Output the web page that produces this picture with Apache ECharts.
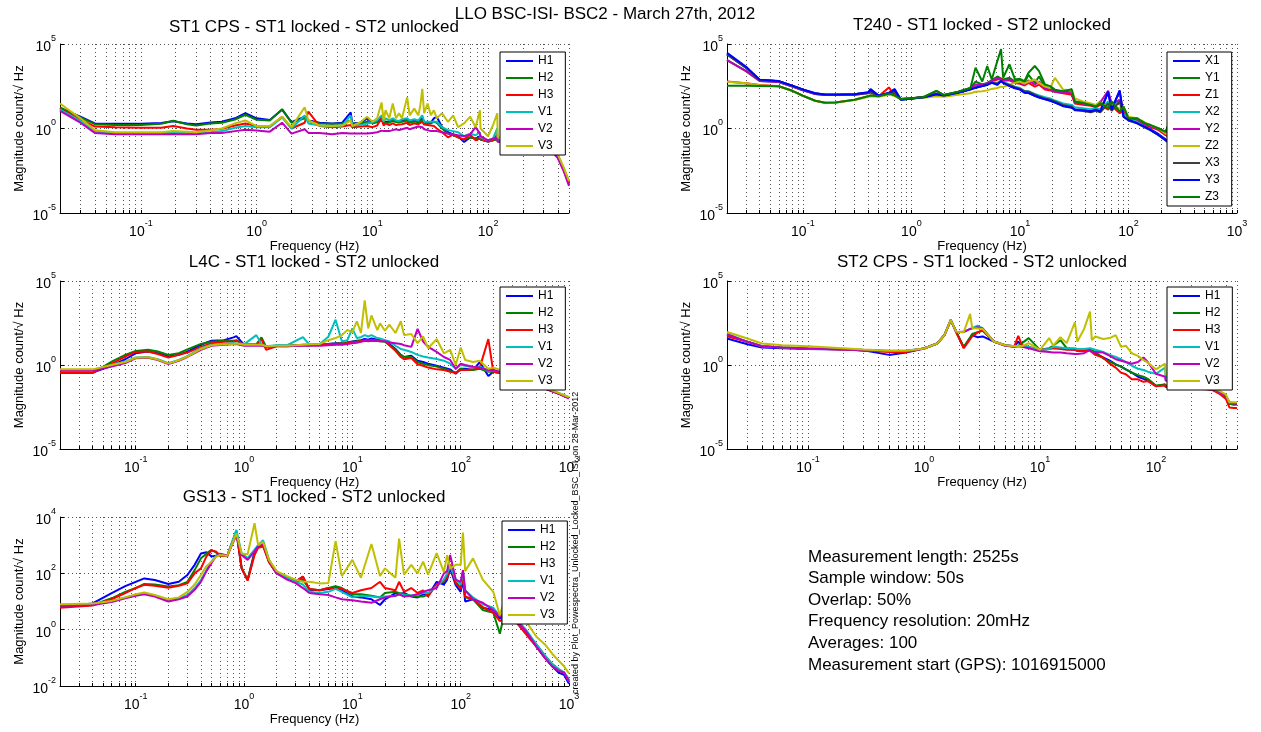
<!DOCTYPE html>
<html>
<head>
<meta charset="utf-8">
<script src="https://cdn.jsdelivr.net/npm/echarts@6/dist/echarts.min.js"></script>
<style>html,body{margin:0;padding:0;background:#fff}#c{width:1261px;height:732px}</style>
</head>
<body>
<div id="c"></div>
<script>
// ---------------- tick values / labels ----------------
const X_TICKS_500 = [0.02,0.03,0.04,0.05,0.06,0.07,0.08,0.09,0.1,0.2,0.3,0.4,0.5,0.6,0.7,0.8,0.9,1,2,3,4,5,6,7,8,9,10,20,30,40,50,60,70,80,90,100,200,300,400,500];
const X_TICKS_1000 = [0.02,0.03,0.04,0.05,0.06,0.07,0.08,0.09,0.1,0.2,0.3,0.4,0.5,0.6,0.7,0.8,0.9,1,2,3,4,5,6,7,8,9,10,20,30,40,50,60,70,80,90,100,200,300,400,500,600,700,800,900,1000];
const X_LABELS_500 = [0.1, 1, 10, 100];
const X_LABELS_1000 = [0.1, 1, 10, 100, 1000];
const Y_LABELS_WIDE = [1e-5, 1, 1e5];
const Y_LABELS_GS13 = [0.01, 1, 100, 10000];

// ---------------- ST1 CPS ----------------
const FREQ_ST1CPS = [0.02,0.03,0.04,0.06,0.1,0.15,0.19,0.25,0.3,0.4,
 0.5,0.65,0.8,1.0,1.3,1.66,2.0,2.6,2.8,3.5,
 4.5,5.5,6.5,6.7,8,9,10,11,12,12.5,
 13,14,15,16,17,18,20,21,23,25,
 26,27,28,30,32,34,36,40,45,50,
 55,62,70,78,85,86,100,110,120,121,
 150,200,250,300,350,400,450,500];
const ST1CPS_H1 = [16,5,2.0,1.9,1.9,2.1,2.7,2.0,1.8,2.3,
 2.5,4,8,4,3.2,13,2.4,5,3,2.2,
 2.0,2.2,9,2.0,2.2,4,2.2,2.6,5,2.5,
 3,2.5,3.5,2.8,2.6,2.8,3.5,2.5,3,2.6,
 2.8,4,2.5,2.3,2.2,4,5,1.2,0.6,0.45,
 0.35,0.16,0.3,0.25,0.35,0.22,0.17,0.2,0.25,0.17,
 0.17,0.15,0.12,0.1,0.07,0.025,0.004,0.0006];
const ST1CPS_H2 = [18,4.5,1.8,1.6,1.6,1.9,2.9,1.8,1.5,2.0,
 2.2,3.4,6.5,3.3,3.0,14,2.2,4,2.8,2.0,
 1.9,2.0,3,1.9,2.0,2.5,2.0,2.3,3,2.2,
 2.6,2.2,2.8,2.4,2.3,2.5,3,2.2,2.6,2.3,
 2.5,3,2.2,2.0,2.0,2.5,2.2,1.0,0.5,0.4,
 0.3,0.22,0.3,0.25,0.3,0.22,0.17,0.2,0.22,0.17,
 0.17,0.15,0.12,0.1,0.07,0.025,0.004,0.0006];
const ST1CPS_H3 = [14,3.5,1.3,1.2,1.1,1.1,1.4,1.0,0.85,0.85,
 0.95,1.5,2.0,1.4,1.3,5,1.0,2.2,10,1.4,
 1.2,1.3,1.6,1.2,1.3,1.4,1.2,1.5,4,1.5,
 2,1.6,2,1.6,1.7,1.8,2.2,1.6,2,1.8,
 2,2.5,1.7,1.6,1.5,1.4,1.0,0.6,0.3,0.45,
 0.3,0.22,0.45,0.2,0.25,0.2,0.17,0.2,0.45,0.17,
 0.17,0.15,0.12,0.09,0.06,0.02,0.0035,0.0005];
const ST1CPS_V1 = [13,2.8,0.65,0.55,0.55,0.55,0.6,0.55,0.55,0.6,
 0.7,1.1,1.4,1.2,1.2,4.5,1.0,6,2,1.5,
 1.3,1.5,6,1.5,1.6,2,2.2,3,6,2.5,
 4,3,4,3,2.8,3.5,4,3,3.5,3,
 3,6,2.5,2.5,2.5,2.5,2.5,1.2,0.8,0.7,
 0.6,0.35,0.5,0.4,0.6,0.3,0.2,0.25,1.0,0.2,
 0.2,0.17,0.13,0.1,0.07,0.025,0.004,0.0007];
const ST1CPS_V2 = [11,2.2,0.55,0.45,0.45,0.45,0.48,0.45,0.45,0.55,
 0.55,0.7,0.85,0.75,0.65,2.2,0.5,0.9,0.55,0.55,
 0.45,0.55,0.5,0.45,0.5,0.5,0.55,0.6,0.75,0.7,
 0.8,0.7,0.8,0.9,0.8,0.9,1.1,0.9,1.1,1.3,
 1.0,1.2,0.9,0.8,0.7,0.7,0.7,0.6,0.5,0.45,
 0.4,0.35,0.45,1.2,0.5,0.35,0.2,0.25,0.3,0.17,
 0.16,0.14,0.11,0.08,0.05,0.018,0.003,0.0004];
const ST1CPS_V3 = [30,4,0.8,0.6,0.6,0.6,0.7,0.65,0.6,0.8,
 1.0,2.0,3,1.4,1.4,5,1.2,18,3,1.5,
 1.4,1.5,3,1.4,2.5,5,2.5,4,35,3,
 12,4,30,4,8,4,70,6,15,6,
 25,220,8,30,6,12,4,8,2.5,6,
 1.2,2,5,1.2,12,1,0.35,1.5,8,0.3,
 0.25,0.2,0.15,0.11,0.08,0.03,0.005,0.0008];

// ---------------- T240 ----------------
const FREQ_T240 = [0.02,0.03,0.04,0.06,0.08,0.1,0.13,0.16,0.2,0.3,
 0.4,0.42,0.5,0.62,0.7,0.8,1.0,1.3,1.7,2.0,
 2.7,3.5,3.9,4.5,5.0,5.5,6.2,6.7,7,8,
 9,10,11,12,13.7,15,17,19,21,25,
 30,32,38,45,50,55,65,70,83,90,
 100,120,143,160,190,220,240,250];
const T240_X1 = [25000,4000,760,630,340,200,120,100,100,105,
 135,215,87,130,215,50,60,70,108,90,
 135,215,270,340,400,540,400,680,540,340,
 250,215,135,130,87,70,55,45,35,22,
 18,14,13,11,14,11,135,14,170,5.6,
 3.5,2.3,1.3,0.9,0.46,0.23,0.15,0.12];
const T240_Y1 = [11000,2500,650,560,300,180,110,95,95,100,
 120,140,85,110,140,55,60,75,170,95,
 150,250,600,400,500,700,1200,900,800,1000,
 600,700,500,1500,500,1200,300,250,180,150,
 160,40,35,28,22,40,16,35,10,18,
 4,4,2.0,1.5,1.0,0.6,2.5,1.5];
const T240_Z1 = [600,480,370,316,170,87,44,33,35,50,
 80,90,80,270,90,55,62,72,110,95,
 140,230,300,380,450,600,800,900,700,700,
 500,450,350,500,300,400,200,180,150,120,
 100,30,25,22,18,25,13,22,8,12,
 3,3,1.5,1.2,0.8,0.4,0.3,0.25];
const T240_X2 = [24000,3800,740,620,330,195,118,100,100,105,
 130,150,85,120,150,52,60,70,110,90,
 140,220,280,350,420,560,500,700,560,400,
 300,250,170,160,110,90,70,60,45,30,
 25,18,16,14,16,14,40,16,50,7,
 4,2.5,1.2,0.8,0.4,0.2,0.14,0.1];
const T240_Y2 = [11000,2500,650,560,300,180,110,95,95,100,
 125,150,85,115,150,55,60,72,120,92,
 145,240,400,380,480,650,1000,800,700,800,
 500,500,400,700,400,600,250,200,150,130,
 120,35,30,25,20,35,170,30,50,15,
 4,3.5,1.8,1.4,0.9,0.5,1.5,1.2];
const T240_Z2 = [580,470,360,310,165,85,43,32,34,48,
 75,80,75,100,85,52,60,65,80,75,
 100,120,150,160,180,220,250,300,280,400,
 500,600,450,600,800,500,300,250,1000,200,
 180,60,40,30,25,35,18,25,15,20,
 5,4,2.2,1.6,1.0,0.5,0.35,0.3];
const T240_X3 = [24000,3800,740,620,330,195,118,100,100,105,
 130,140,85,115,140,52,60,70,105,90,
 135,210,260,330,400,520,450,650,520,380,
 280,230,160,150,100,80,60,50,40,25,
 20,12,11,9,11,9,30,11,40,5,
 3,2.0,1.1,0.8,0.4,0.2,0.14,0.1];
const T240_Y3 = [30000,4500,780,640,345,205,122,102,102,106,
 138,200,88,125,200,50,60,70,105,88,
 130,200,260,330,380,500,380,650,500,320,
 240,200,130,125,85,68,54,44,34,21,
 17,13,12,10,13,10,150,13,180,5,
 3.2,2.1,1.2,0.8,0.4,0.2,0.13,0.11];
const T240_Z3 = [340,340,330,316,170,87,44,33,35,50,
 80,90,80,120,90,55,62,72,170,95,
 150,250,4000,600,5000,800,10000,50000,1000,6300,
 800,870,630,2000,5000,2500,400,320,200,160,
 210,40,32,25,20,32,16,40,10,20,
 4,4,2.0,1.6,1.0,0.63,2.8,1.6];

// ---------------- L4C ----------------
const FREQ_L4C = [0.02,0.04,0.06,0.08,0.1,0.13,0.16,0.2,0.25,0.3,
 0.4,0.5,0.65,0.8,0.85,1.0,1.3,1.45,1.6,2.0,
 2.5,3.5,4,5,6,7,8,9,10,11,
 12,13,14,15,17,18,20,22,25,28,
 30,35,40,45,50,60,70,80,90,100,
 110,130,150,180,200,300,400,600,800,1000];
const L4C_H1 = [0.35,0.35,0.9,2.2,5,6.3,5,3.2,4,6.3,
 16,28,30,44,52,16,16,17,12,14,
 14,16,16,17,18,20,20,22,25,28,
 30,35,32,38,32,30,28,18,9,4,
 3,3.5,1.8,1.5,1.2,0.9,0.7,0.55,0.3,0.6,
 0.6,0.5,1.5,0.22,0.4,0.25,0.12,0.04,0.02,0.011];
const L4C_H2 = [0.33,0.33,1.6,4,6.8,8,6.3,4,5,8.5,
 18,24,28,28,30,16,17,44,12,14,
 14,15,15,16,18,19,20,22,24,26,
 28,30,30,32,28,26,24,15,8,4,
 3,3,1.5,1.2,1.0,0.8,0.6,0.45,0.35,0.6,
 0.5,0.5,0.6,0.4,0.4,0.25,0.12,0.04,0.02,0.011];
const L4C_H3 = [0.35,0.35,1.2,3.2,6,6.3,4.5,2.8,4,5.5,
 12,20,24,25,28,16,16,35,8,13,
 13,15,15,16,17,18,19,20,22,24,
 26,28,28,30,30,28,28,15,7,3,
 2.2,2.6,1.1,0.9,0.7,0.55,0.5,0.4,0.35,0.5,
 0.5,0.55,0.7,35,0.4,0.25,0.12,0.04,0.02,0.011];
const L4C_V1 = [0.5,0.5,1.0,1.6,2.8,3,2.2,1.3,2,3.4,
 10,16,18,20,20,17,60,17,13,15,
 15,45,17,18,48,500,25,30,150,40,
 45,60,50,60,40,38,30,25,14,9,
 8,6,4,3.2,2.8,2.3,1.8,1.2,0.6,1.0,
 0.9,0.7,0.8,0.45,0.5,0.28,0.13,0.045,0.022,0.012];
const L4C_V2 = [0.45,0.45,0.8,1.3,2.5,2.7,2.0,1.15,1.8,3,
 8,14,16,17,18,14,14,14,12,13,
 13,14,14,14,15,16,16,18,20,21,
 24,28,26,28,27,26,26,22,20,18,
 15,12,140,25,12,6,3,2,0.6,1.2,
 1.0,0.8,0.7,0.5,0.5,0.25,0.12,0.04,0.02,0.01];
const L4C_V3 = [0.55,0.55,1.0,1.5,2.7,2.9,2.1,1.2,1.9,3.2,
 9,15,17,18,19,16,16,16,13,14,
 14,16,17,18,30,40,60,120,90,400,
 80,7000,150,900,120,300,110,250,80,400,
 60,70,20,50,10,35,5,8,1,11,
 2,1.5,1.8,0.6,0.7,0.3,0.14,0.045,0.022,0.012];

// ---------------- ST2 CPS ----------------
const FREQ_ST2CPS = [0.02,0.03,0.04,0.06,0.1,0.2,0.3,0.5,0.7,1.0,
 1.3,1.5,1.7,1.9,2.2,2.5,2.6,2.9,3.2,4,
 5,6,6.5,7,8,10,12,13,15,17,
 20,21,24,27,28,30,35,40,45,50,
 55,62,70,78,85,100,120,121,150,200,
 300,350,400,430,470,500];
const ST2CPS_H1 = [38,17,11,10,9,8.5,7.5,4,5.5,9.6,
 19,60,480,90,11,40,60,45,50,25,
 15,13,25,12,11,8,9,12,10,9,
 8,7,7,8,6,5,2.8,1.8,1.1,0.8,
 0.55,0.35,0.2,0.15,0.12,0.055,0.07,0.05,0.05,0.045,
 0.035,0.025,0.012,0.005,0.0045,0.0045];
const ST2CPS_H2 = [60,24,13,11,9.6,9,7,6.5,6.5,9.6,
 19,60,470,92,12,45,70,90,110,25,
 15,12,14,20,40,8,10,14,30,10,
 9,8,8,9,7,6,2.5,1.6,1.1,0.8,
 0.55,0.35,0.25,0.2,0.15,0.06,0.07,0.05,0.05,0.045,
 0.035,0.025,0.012,0.005,0.0045,0.005];
const ST2CPS_H3 = [52,24,13,11,9.6,8.5,7.5,6,6,9.6,
 19,60,460,85,10,35,50,87,120,25,
 15,13,55,15,12,8,9,10,9,8,
 8,7,7,7,6,4,2.8,1.2,0.7,0.35,
 0.28,0.14,0.14,0.1,0.11,0.055,0.06,0.05,0.05,0.04,
 0.035,0.02,0.01,0.003,0.0028,0.0028];
const ST2CPS_V1 = [74,24,13,11,9.6,9,8,7,7,9.6,
 19,60,470,95,90,140,150,220,150,25,
 15,13,14,13,12,8,9,12,11,10,
 10,9,9,10,8,8,6,4,3,2.2,
 1.5,0.9,0.6,0.5,0.4,0.3,0.7,0.2,0.1,0.05,
 0.04,0.025,0.015,0.006,0.0055,0.0055];
const ST2CPS_V2 = [68,24,13,11,9.6,8.5,7.5,6.8,6.8,9.6,
 19,60,470,92,94,140,150,180,150,25,
 14,12,13,12,10,6.5,6,5.5,5.5,5,
 4.5,4.5,5,8,6,6,5.5,3.5,2.2,1.8,
 1.5,1.2,1.5,2.8,1.5,0.3,0.2,0.12,0.1,0.05,
 0.04,0.025,0.015,0.006,0.005,0.005];
const ST2CPS_V3 = [93,38,19,15,13,10,8.5,7,7,9.6,
 19,60,480,94,90,1100,160,150,140,25,
 15,13,14,13,20,8,40,14,45,20,
 350,25,140,1500,30,50,35,40,60,12,
 14,5,3.5,2,1.4,0.55,1.2,0.3,0.15,0.06,
 0.045,0.03,0.018,0.006,0.006,0.006];

// ---------------- GS13 ----------------
const FREQ_GS13 = [0.02,0.04,0.06,0.08,0.1,0.12,0.15,0.2,0.25,0.3,
 0.35,0.4,0.45,0.5,0.55,0.6,0.7,0.85,0.95,1.08,
 1.25,1.35,1.5,1.7,2,2.5,3,3.5,4,5,
 6,7,8,10,12,15,18,20,25,27,
 30,35,40,45,50,60,70,75,80,90,
 100,105,110,130,160,200,230,250,300,400,
 500,600,700,800,900,1000];
const GS13_H1 = [6.6,8.5,20,35,50,66,58,42,50,87,
 200,510,560,400,420,450,420,3000,150,58,
 590,1000,1100,260,100,70,50,76,26,25,
 28,30,25,15,14,12,7.5,12,20,18,
 20,15,14,18,16,50,40,60,150,38,
 22,60,10,12,6,5,2.5,3,2.5,0.8,
 0.25,0.1,0.05,0.03,0.025,0.012];
const GS13_H2 = [6.6,7.5,13,22,30,42,40,34,38,50,
 130,340,500,680,560,420,420,3200,160,60,
 500,900,1000,260,100,70,50,60,28,25,
 30,35,30,18,18,16,14,20,22,20,
 18,16,15,15,18,40,50,80,200,50,
 30,100,14,12,5,4,0.72,3,3,0.8,
 0.3,0.12,0.06,0.04,0.03,0.016];
const GS13_H3 = [6,7.2,12,20,30,39,36,31,36,44,
 100,150,400,640,600,430,400,3000,150,55,
 450,800,900,250,100,70,52,76,28,25,
 30,30,28,20,25,30,50,30,25,50,
 22,30,20,25,15,40,55,70,200,45,
 28,90,15,12,6.3,4,2,2.5,2.8,0.7,
 0.25,0.1,0.05,0.035,0.03,0.014];
const GS13_V1 = [7.5,8,10,14,17,19.5,16,11,13,17,
 30,58,130,260,420,480,420,3500,510,350,
 700,1000,1500,300,110,70,50,40,22,20,
 22,28,22,14,16,15,14,15,16,18,
 17,16,18,20,20,35,60,100,180,60,
 40,120,25,14,8,6,3,4,3.5,1.0,
 0.3,0.12,0.06,0.04,0.03,0.018];
const GS13_V2 = [7,7.5,9.5,13,16,18,15,10,12,15,
 26,50,120,230,400,500,430,2300,450,300,
 600,900,1200,280,100,60,45,30,20,18,
 17,14,12,11,10,9,12,14,16,18,
 15,16,18,22,25,30,100,120,450,60,
 50,130,25,12,9,5,3,3.5,3,0.9,
 0.25,0.1,0.05,0.035,0.03,0.015];
const GS13_V3 = [8,8.5,10.5,14,18,21,17,12,14,22,
 40,87,180,260,380,450,420,2600,510,480,
 6000,1000,1300,300,120,80,60,50,50,44,
 45,1400,80,300,70,1100,80,150,70,1700,
 90,200,100,260,90,520,110,440,150,200,
 200,2800,120,340,60,22,3.2,10,8,2,
 0.56,0.3,0.14,0.08,0.05,0.028];

// ---------------- texts ----------------
const MAIN_TITLE = 'LLO BSC-ISI- BSC2 - March 27th, 2012';
const NAMES_HV = ['H1','H2','H3','V1','V2','V3'];
const NAMES_T240 = ['X1','Y1','Z1','X2','Y2','Z2','X3','Y3','Z3'];
const INFO_LINES = ['Measurement length: 2525s','Sample window: 50s','Overlap: 50%','Frequency resolution: 20mHz','Averages: 100','Measurement start (GPS): 1016915000'];
const CREATED_BY = 'created by Plot_Powespectra_Unlocked_Locked_BSC_ISI_on 28-Mar-2012';

// ---------------- styling & layout ----------------
const FONT = '"Liberation Sans", Arial, Helvetica, sans-serif';
const COL = {blue:'#0000ff', green:'#008000', red:'#ff0000', cyan:'#00bfbf', magenta:'#bf00bf', olive:'#bfbf00', gray:'#404040'};
const COLORS_HV = [COL.blue, COL.green, COL.red, COL.cyan, COL.magenta, COL.olive];
const COLORS_T240 = [COL.blue, COL.green, COL.red, COL.cyan, COL.magenta, COL.olive, COL.gray, COL.blue, COL.green];

const panels = [
  {title:'ST1 CPS - ST1 locked - ST2 unlocked', tx:314, ty:27, grid:{left:60, top:44, width:509, height:169}, xmax:500, ymin:1e-5, ymax:1e5, ylab:Y_LABELS_WIDE,
   freq:FREQ_ST1CPS, names:NAMES_HV, colors:COLORS_HV, vals:[ST1CPS_H1,ST1CPS_H2,ST1CPS_H3,ST1CPS_V1,ST1CPS_V2,ST1CPS_V3], leg:{left:500, top:52}},
  {title:'T240 - ST1 locked - ST2 unlocked', tx:982, ty:25, grid:{left:727, top:44, width:510, height:169}, xmax:1000, ymin:1e-5, ymax:1e5, ylab:Y_LABELS_WIDE,
   freq:FREQ_T240, names:NAMES_T240, colors:COLORS_T240, vals:[T240_X1,T240_Y1,T240_Z1,T240_X2,T240_Y2,T240_Z2,T240_X3,T240_Y3,T240_Z3], leg:{left:1167, top:52}},
  {title:'L4C - ST1 locked - ST2 unlocked', tx:314, ty:262, grid:{left:60, top:281, width:509, height:168}, xmax:1000, ymin:1e-5, ymax:1e5, ylab:Y_LABELS_WIDE,
   freq:FREQ_L4C, names:NAMES_HV, colors:COLORS_HV, vals:[L4C_H1,L4C_H2,L4C_H3,L4C_V1,L4C_V2,L4C_V3], leg:{left:500, top:287}},
  {title:'ST2 CPS - ST1 locked - ST2 unlocked', tx:982, ty:262, grid:{left:727, top:281, width:510, height:168}, xmax:500, ymin:1e-5, ymax:1e5, ylab:Y_LABELS_WIDE,
   freq:FREQ_ST2CPS, names:NAMES_HV, colors:COLORS_HV, vals:[ST2CPS_H1,ST2CPS_H2,ST2CPS_H3,ST2CPS_V1,ST2CPS_V2,ST2CPS_V3], leg:{left:1167, top:287}},
  {title:'GS13 - ST1 locked - ST2 unlocked', tx:314, ty:497, grid:{left:60, top:517, width:509, height:169}, xmax:1000, ymin:0.01, ymax:10000, ylab:Y_LABELS_GS13,
   freq:FREQ_GS13, names:NAMES_HV, colors:COLORS_HV, vals:[GS13_H1,GS13_H2,GS13_H3,GS13_V1,GS13_V2,GS13_V3], leg:{left:502, top:521}}
];

function powLabel(v) {
  const e = Math.round(Math.log(v) / Math.LN10);
  return '{b|10}{s|' + e + '}';
}
const RICH = {
  b: {fontSize: 14, fontFamily: FONT, color: '#000', lineHeight: 20, verticalAlign: 'bottom'},
  s: {fontSize: 9, fontFamily: FONT, color: '#000', lineHeight: 12, verticalAlign: 'top'}
};
const GRIDLINE = {show: true, lineStyle: {color: '#555', width: 1, type: [1, 3]}};

const option = {
  animation: false,
  backgroundColor: '#fff',
  grid: [], xAxis: [], yAxis: [], series: [], legend: [], graphic: []
};

panels.forEach((p, i) => {
  option.grid.push(Object.assign({containLabel: false}, p.grid));
  option.xAxis.push({
    type: 'log', logBase: 10, gridIndex: i, min: 0.02, max: p.xmax,
    name: 'Frequency (Hz)', nameLocation: 'middle', nameGap: 27,
    nameTextStyle: {fontSize: 13, color: '#000', fontFamily: FONT},
    axisLine: {show: true, lineStyle: {color: '#000', width: 1}},
    axisTick: {show: true, inside: true, length: 3, customValues: p.xmax === 500 ? X_TICKS_500 : X_TICKS_1000, lineStyle: {color: '#000'}},
    axisLabel: {customValues: p.xmax === 500 ? X_LABELS_500 : X_LABELS_1000, formatter: powLabel, rich: RICH, margin: 6},
    splitLine: GRIDLINE
  });
  option.yAxis.push({
    type: 'log', logBase: 10, gridIndex: i, min: p.ymin, max: p.ymax,
    name: 'Magnitude count/\u221A Hz', nameLocation: 'middle', nameGap: 34, nameRotate: 90,
    nameTextStyle: {fontSize: 13, color: '#000', fontFamily: FONT},
    axisLine: {show: true, lineStyle: {color: '#000', width: 1}},
    axisTick: {show: true, inside: true, length: 4, customValues: p.ylab, lineStyle: {color: '#000'}},
    axisLabel: {customValues: p.ylab, formatter: powLabel, rich: RICH, margin: 4},
    splitLine: GRIDLINE
  });
  p.names.forEach((nm, k) => {
    const vals = p.vals[k];
    if (vals.length !== p.freq.length) console.error('length mismatch', p.title, nm, vals.length, p.freq.length);
    option.series.push({
      type: 'line', name: nm, xAxisIndex: i, yAxisIndex: i,
      data: p.freq.map((f, j) => [f, vals[j]]),
      symbol: 'none', showSymbol: false, silent: true, clip: true,
      color: p.colors[k],
      lineStyle: {color: p.colors[k], width: 2},
      itemStyle: {color: p.colors[k]}
    });
  });
  option.legend.push({
    data: p.names, orient: 'vertical', left: p.leg.left, top: p.leg.top,
    icon: 'rect', itemWidth: 27, itemHeight: 2, itemGap: 5,
    backgroundColor: '#fff', borderColor: '#000', borderWidth: 1,
    padding: [3, 12, 3, 6], selectedMode: false,
    textStyle: {fontSize: 12, color: '#000', fontFamily: FONT}
  });
  option.graphic.push({type: 'text', x: p.tx, y: p.ty, silent: true,
    style: {text: p.title, font: '17px ' + FONT, fill: '#000', align: 'center', verticalAlign: 'middle', textAlign: 'center', textVerticalAlign: 'middle'}});
});

option.graphic.push({type: 'text', x: 605, y: 14, silent: true,
  style: {text: MAIN_TITLE, font: '17px ' + FONT, fill: '#000', align: 'center', verticalAlign: 'middle', textAlign: 'center', textVerticalAlign: 'middle'}});
INFO_LINES.forEach((t, k) => {
  option.graphic.push({type: 'text', x: 808, y: 557 + k * 21.6, silent: true,
    style: {text: t, font: '17px ' + FONT, fill: '#000', align: 'left', verticalAlign: 'middle', textAlign: 'left', textVerticalAlign: 'middle'}});
});
option.graphic.push({type: 'text', x: 576, y: 694, rotation: Math.PI / 2, silent: true,
  style: {text: CREATED_BY, font: '9px ' + FONT, fill: '#000', align: 'left', verticalAlign: 'middle', textAlign: 'left', textVerticalAlign: 'middle'}});

const chart = echarts.init(document.getElementById('c'), null, {renderer: 'canvas'});
chart.setOption(option);
</script>
</body>
</html>
